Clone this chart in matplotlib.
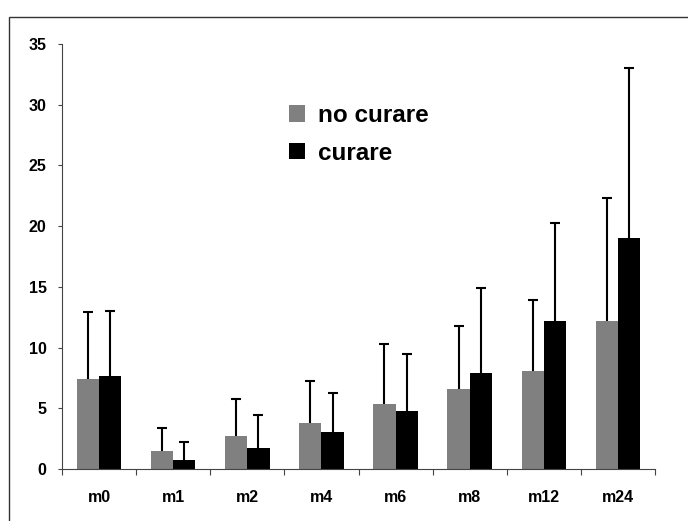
import matplotlib.pyplot as plt
import numpy as np
from matplotlib.patches import Rectangle

# Data
months = ['m0', 'm1', 'm2', 'm4', 'm6', 'm8', 'm12', 'm24']
no_curare = [7.4, 1.5, 2.7, 3.8, 5.35, 6.6, 8.1, 12.2]
no_curare_sd = [5.55, 1.9, 3.05, 3.45, 4.95, 5.2, 5.85, 10.15]
curare = [7.7, 0.75, 1.75, 3.05, 4.75, 7.9, 12.2, 19.05]
curare_sd = [5.3, 1.5, 2.7, 3.2, 4.75, 7.0, 8.1, 14.0]

plt.rcParams['font.family'] = ['Liberation Sans', 'DejaVu Sans']
plt.rcParams['font.weight'] = 'bold'

fig = plt.figure(figsize=(6.88, 5.21), dpi=100)
ax = fig.add_axes([62 / 688, 1 - 469 / 521, (655 - 62) / 688, (469 - 44) / 521])

x = np.arange(len(months))
w = 0.3

ax.bar(x - w / 2, no_curare, w, color='#808080', label='no curare')
ax.bar(x + w / 2, curare, w, color='black', label='curare')

# upper error bars only (hide the cap at the bar top)
for pos, vals, sd in [(x - w / 2, no_curare, no_curare_sd), (x + w / 2, curare, curare_sd)]:
    eb = ax.errorbar(pos, vals, yerr=[np.zeros(len(x)), sd], fmt='none',
                     ecolor='black', elinewidth=1.5, capsize=3.8, capthick=1.5)
    eb[1][0].set_visible(False)

ax.set_xlim(-0.5, len(months) - 0.5)
ax.set_ylim(0, 35)
ax.set_yticks(range(0, 36, 5))
ax.set_xticks(x)
ax.set_xticklabels(months)
ax.set_xticks(np.arange(-0.5, len(months)), minor=True)
ax.tick_params(axis='x', which='major', length=0, pad=15, labelsize=11.5)
ax.tick_params(axis='x', which='minor', length=4, width=0.8, direction='out', color='#444444')
ax.tick_params(axis='y', length=3, width=0.8, pad=8, labelsize=11.5, color='#444444')

for s in ['top', 'right']:
    ax.spines[s].set_visible(False)
for s in ['left', 'bottom']:
    ax.spines[s].set_color('#444444')
    ax.spines[s].set_linewidth(0.8)

ax.legend(loc='upper left', bbox_to_anchor=(289 / 688, 1 - 104 / 521),
          bbox_transform=fig.transFigure, frameon=False,
          handlelength=0.65, handleheight=0.65, handletextpad=0.55,
          labelspacing=0.6, borderpad=0, borderaxespad=0,
          prop={'weight': 'bold', 'size': 17.5})

# outer frame
fig.patches.append(Rectangle((9 / 688, -0.05), 1.0, 1 - 17 / 521 + 0.05,
                             transform=fig.transFigure, fill=False,
                             edgecolor='#333333', linewidth=1.0))

fig.savefig('out.png', dpi=100)
